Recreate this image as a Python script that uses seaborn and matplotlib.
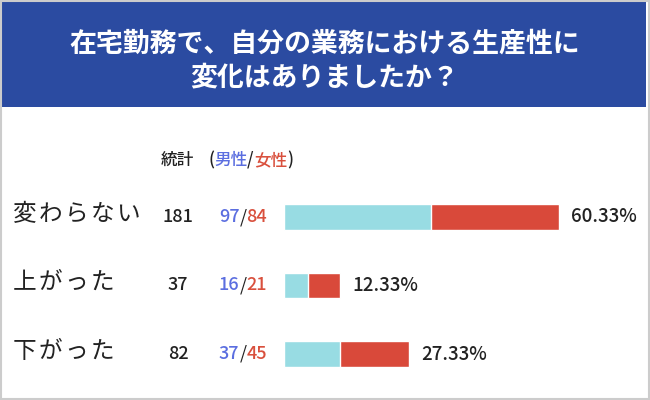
import matplotlib
matplotlib.use('Agg')
import matplotlib.pyplot as plt
import matplotlib.transforms as mtransforms
from matplotlib.patches import Rectangle
import numpy as np
import seaborn as sns

# data
title_lines = ['在宅勤務で、自分の業務における生産性に', '変化はありましたか？']
categories = ['変わらない', '上がった', '下がった']
totals = [181, 37, 82]
male = [97, 16, 37]
female = [84, 21, 45]

pct = np.array(totals) / sum(totals) * 100

sns.set_style('white')
plt.rcParams['font.family'] = ['Noto Sans CJK JP', 'DejaVu Sans']

BANNER = '#2b4ba1'
CYAN = '#98dce3'
RED = '#d9493a'
BLUE_TXT = '#5b6ee0'
RED_TXT = '#d9503d'
DARK = '#222222'
W = 'medium'

fig = plt.figure(figsize=(6.5, 4), dpi=100)

# title banner and outer frame
fig.patches.append(Rectangle((0, 1 - 107 / 400), 646 / 650, 107 / 400, transform=fig.transFigure,
                             facecolor=BANNER, edgecolor='none', zorder=0))
fig.patches.append(Rectangle((0.001, 0.002), 0.997, 0.996, transform=fig.transFigure,
                             facecolor='none', edgecolor='#cccccc', linewidth=1.5, zorder=5))
fig.text(0.5, 1 - 44 / 400, title_lines[0], color='white', fontsize=19.4, fontweight='bold',
         ha='center', va='center')
fig.text(0.5, 1 - 77 / 400, title_lines[1], color='white', fontsize=19.4, fontweight='bold',
         ha='center', va='center')

# bar axes: x=0 sits at 284px, 181 -> 275px
ax = fig.add_axes([284 / 650, 11.75 / 400, 366 / 650, 205.5 / 400])
sns.barplot(x=totals, y=categories, color=RED, width=0.365, saturation=1, ax=ax)
sns.barplot(x=male, y=categories, color=CYAN, width=0.365, saturation=1, ax=ax)
ax.set_xlim(0, 366 * 181 / 275)
ax.set_ylim(2.5, -0.5)
ax.axis('off')

for i, t in enumerate(totals):
    ax.annotate(f'{pct[i]:.2f}%', xy=(t, i), xytext=(9, 0), textcoords='offset points',
                ha='left', va='center', fontsize=13.5, fontweight=W, color=DARK)

# left columns
trans = mtransforms.blended_transform_factory(fig.transFigure, ax.transData)
for i, cat in enumerate(categories):
    ax.text(13 / 650, i - 0.04, '\u200a'.join(cat), transform=trans, ha='left', va='center',
            fontsize=17, color=DARK, clip_on=False)
    ax.text(178 / 650, i, str(totals[i]), transform=trans, ha='center', va='center',
            fontsize=13, fontweight=W, color=DARK, clip_on=False)
    sl = ax.text(243 / 650, i, '/', transform=trans, ha='center', va='center',
                 fontsize=13, color=DARK, clip_on=False)
    ax.annotate(str(male[i]), xy=(0, 0.5), xycoords=sl, ha='right', va='center',
                fontsize=13, fontweight=W, color=BLUE_TXT)
    ax.annotate(str(female[i]), xy=(1, 0.5), xycoords=sl, ha='left', va='center',
                fontsize=13, fontweight=W, color=RED_TXT)

# header row
hy = 1 - 160 / 400
fig.text(177 / 650, hy, '統計', ha='center', va='center', fontsize=12, fontweight=W, color=DARK)
p0 = fig.text(208 / 650, hy, '(', ha='left', va='center', fontsize=12, fontweight=W, color=DARK)
a1 = ax.annotate('男性', xy=(1, 0.5), xycoords=p0, ha='left', va='center', fontsize=12,
                 fontweight=W, color=BLUE_TXT)
a2 = ax.annotate('/', xy=(1, 0.5), xycoords=a1, ha='left', va='center', fontsize=12,
                 fontweight=W, color=DARK)
a3 = ax.annotate('女性', xy=(1, 0.5), xycoords=a2, ha='left', va='center', fontsize=12,
                 fontweight=W, color=RED_TXT)
ax.annotate(')', xy=(1, 0.5), xycoords=a3, ha='left', va='center', fontsize=12,
            fontweight=W, color=DARK)

fig.savefig('out.png', dpi=100)
